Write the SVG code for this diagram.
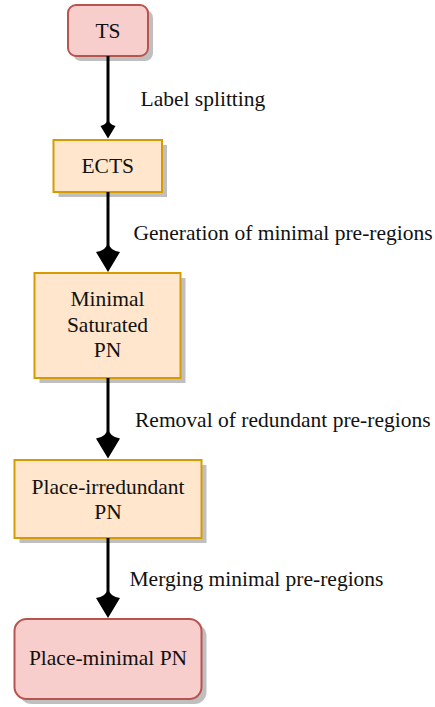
<svg xmlns="http://www.w3.org/2000/svg" width="435" height="707" viewBox="0 0 435 707">
  <style>
    text { font-family: "Liberation Serif", "Times New Roman", serif; font-size: 21.5px; fill: #111; }
    .c { text-anchor: middle; }
    .shadow { fill: #000; opacity: 0.25; }
    .red { fill: #f8cecc; stroke: #b85450; stroke-width: 2; }
    .orange { fill: #ffe6cc; stroke: #d79b00; stroke-width: 2; }
    .edge { stroke: #000; stroke-width: 3; fill: none; }
    .head { fill: #000; stroke: none; }
  </style>

  <!-- process steps -->
  <g id="node-ts">
    <rect class="shadow" x="73" y="10" width="80" height="51" rx="8"/>
    <rect class="red" x="68" y="5" width="80" height="51" rx="8"/>
    <text class="c" x="108" y="38">TS</text>
  </g>

  <g id="node-ects">
    <rect class="shadow" x="58.5" y="145" width="108.5" height="52"/>
    <rect class="orange" x="53.5" y="140" width="108.5" height="52"/>
    <text class="c" x="107.75" y="172.5">ECTS</text>
  </g>

  <g id="node-minimal-saturated">
    <rect class="shadow" x="39.5" y="278" width="146" height="105"/>
    <rect class="orange" x="34.5" y="273" width="146" height="105"/>
    <text class="c" x="107.5" y="306">Minimal</text>
    <text class="c" x="107.5" y="332">Saturated</text>
    <text class="c" x="107.5" y="357">PN</text>
  </g>

  <g id="node-place-irredundant">
    <rect class="shadow" x="19.5" y="465" width="187" height="78"/>
    <rect class="orange" x="14.5" y="460" width="187" height="78"/>
    <text class="c" x="108" y="493.5">Place-irredundant</text>
    <text class="c" x="108" y="518.5">PN</text>
  </g>

  <g id="node-place-minimal">
    <rect class="shadow" x="19.5" y="624" width="187" height="80" rx="12"/>
    <rect class="red" x="14.5" y="619" width="187" height="80" rx="12"/>
    <text class="c" x="108" y="665">Place-minimal PN</text>
  </g>

  <!-- transformations between steps; arrowheads have a flared, concave back -->
  <g id="connectors">
    <line class="edge" x1="108" y1="56" x2="108" y2="124"/>
    <path class="head" d="M108 138.5 L100.5 126 Q106.5 124.5 108 119 Q109.5 124.5 115.5 126 Z"/>
    <text x="140.5" y="106">Label splitting</text>

    <line class="edge" x1="108" y1="192" x2="108" y2="250"/>
    <path class="head" d="M108 272 L96 252 Q106.5 250.5 108 242 Q109.5 250.5 120 252 Z"/>
    <text x="133.5" y="240">Generation of minimal pre-regions</text>

    <line class="edge" x1="108" y1="378" x2="108" y2="436"/>
    <path class="head" d="M108 458.5 L96 438.5 Q106.5 437 108 428 Q109.5 437 120 438.5 Z"/>
    <text x="135" y="427">Removal of redundant pre-regions</text>

    <line class="edge" x1="108" y1="538" x2="108" y2="596"/>
    <path class="head" d="M108 618 L96 598 Q106.5 596.5 108 588 Q109.5 596.5 120 598 Z"/>
    <text x="129.5" y="586">Merging minimal pre-regions</text>
  </g>
</svg>
